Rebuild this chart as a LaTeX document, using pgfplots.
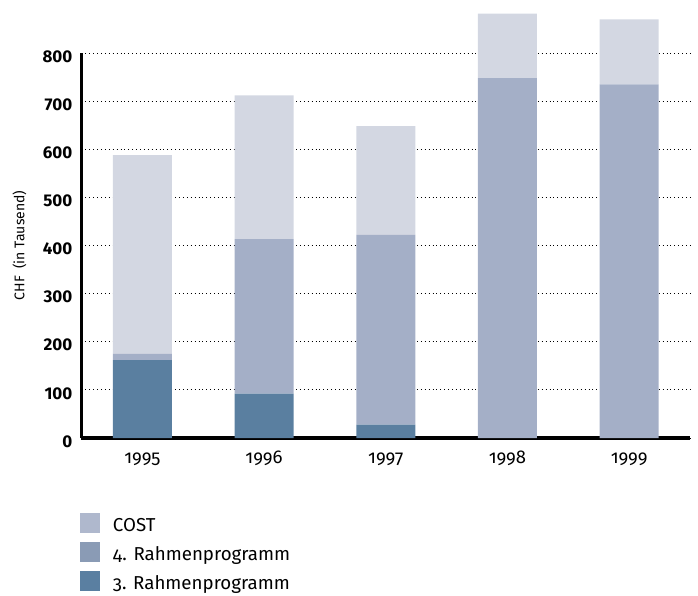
\documentclass[border=0pt]{standalone}
\usepackage{fontspec}
\setmainfont{Fira Sans}
\newfontfamily\osf{Fira Sans}[Numbers=OldStyle]
\usepackage{pgfplots}
\pgfplotsset{compat=1.18}
\definecolor{costbar}{HTML}{D3D7E2}
\definecolor{rpfourbar}{HTML}{A4AFC7}
\definecolor{rpthreebar}{HTML}{5A7FA0}
\definecolor{costleg}{HTML}{AFB8CD}
\definecolor{rpfourleg}{HTML}{8A9BB5}
\definecolor{rpthreeleg}{HTML}{5A7FA1}
\pgfplotsset{sq legend/.style={legend image code/.code={\fill[##1] (0pt,-1pt) rectangle (20pt,19pt);}}}
\begin{document}
\begin{tikzpicture}
\begin{axis}[
  scale only axis,
  width=608.5pt, height=385pt,
  at={(0,0)}, anchor=south west,
  xmin=-0.5, xmax=4.5, ymin=0, ymax=800,
  clip=false,
  axis x line=bottom, axis y line=left,
  axis line style={-, line width=3.5pt, black},
  ybar stacked, bar width=59pt,
  xtick={0,1,2,3,4},
  xticklabels={1995,1996,1997,1998,1999},
  xticklabel style={anchor=base, yshift=-25pt, font=\osf\fontsize{18.5}{18}\selectfont},
  ytick={0,100,200,300,400,500,600,700,800},
  yticklabels={0,100,200,300,400,500,600,700,800},
  yticklabel style={anchor=east, inner sep=0pt, xshift=-9pt, yshift=-3.5pt, font=\bfseries\fontsize{17}{17}\selectfont},
  major tick length=0pt,
  ymajorgrids,
  major grid style={black, line width=0.9pt, dash pattern=on 0.9pt off 3pt},
  ylabel={CHF\ \ (in Tausend)},
  every axis y label/.style={at={(axis description cs:-0.102,0.5)}, rotate=90, anchor=center, font=\osf\fontsize{14}{14}\selectfont},
  legend style={at={(axis description cs:-0.0025,-0.192)}, anchor=north west, draw=none, fill=none,
    inner sep=0pt, outer sep=0pt, row sep=0pt, column sep=13pt,
    nodes={inner sep=0pt, outer sep=0pt, text height=20pt, text depth=9pt, anchor=base west},
    font=\osf\fontsize{18.7}{18}\selectfont},
  legend cell align=left,
  sq legend,
]
\addlegendimage{fill=costleg, draw=none}
\addlegendentry{COST}
\addlegendimage{fill=rpfourleg, draw=none}
\addlegendentry{4. Rahmenprogramm}
\addlegendimage{fill=rpthreeleg, draw=none}
\addlegendentry{3. Rahmenprogramm}
\addplot[fill=rpthreebar, draw=none, forget plot] coordinates {(0,162) (1,92) (2,28) (3,0) (4,0)};
\addplot[fill=rpfourbar, draw=none, forget plot] coordinates {(0,13) (1,321) (2,394) (3,748) (4,735)};
\addplot[fill=costbar, draw=none, forget plot] coordinates {(0,413) (1,299) (2,226) (3,134) (4,135)};
\end{axis}
\pgfresetboundingbox
\path (-81.5pt,-158pt) rectangle (616.5pt,438pt);
\end{tikzpicture}
\end{document}
